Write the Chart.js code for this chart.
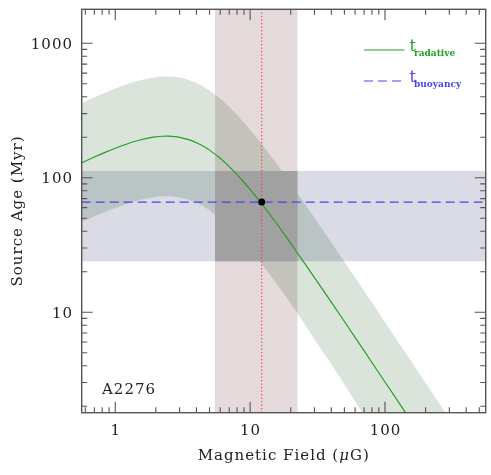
<!DOCTYPE html>
<html><head><meta charset="utf-8">
<script src="https://cdn.jsdelivr.net/npm/chart.js@4.4.0/dist/chart.umd.min.js"></script>
<style>html,body{margin:0;padding:0;background:#fff}</style>
</head><body><canvas id="c" width="491" height="475"></canvas>
<script>
// ---- data ----
const fieldB     = [0.56, 0.7, 0.85, 1, 1.25, 1.5, 1.75, 2, 2.25, 2.5, 2.75, 3, 3.5, 4, 4.5, 5, 6, 7, 8, 9, 10, 12, 14, 17, 20, 25, 30, 40, 60, 80, 100, 150, 200, 300, 400, 570];
const tRadiative = [128.9, 142.7, 155.2, 165.8, 179.9, 190.1, 197.2, 201.5, 203.6, 203.7, 202.4, 199.9, 192.1, 182.3, 171.5, 160.5, 139.5, 121.1, 105.6, 92.6, 81.8, 65.2, 53.3, 40.9, 32.5, 23.6, 18.1, 11.9, 6.5, 4.23, 3.03, 1.65, 1.07, 0.58, 0.38, 0.22];
const tRadUpper  = [358, 397, 431, 461, 500, 528, 548, 560, 566, 566, 563, 556, 534, 507, 477, 446, 388, 337, 294, 257, 227, 181, 148, 114, 90.4, 65.6, 50.4, 33.0, 18.1, 11.8, 8.42, 4.59, 2.98, 1.62, 1.05, 0.62];
const tRadLower  = [47.0, 51.5, 55.8, 59.5, 64.4, 68.0, 70.5, 72.0, 72.7, 72.7, 72.2, 71.4, 68.6, 65.1, 61.2, 57.3, 49.8, 43.2, 37.7, 33.0, 29.2, 23.3, 19.0, 14.6, 11.6, 8.3, 6.3, 4.1, 2.18, 1.40, 1.00, 0.545, 0.354, 0.19, 0.125, 0.074];
const fieldRange = [5.49, 22.5];     // muG
const ageRange   = [23.9, 112.4];    // Myr
const tBuoyancy  = 65.9;
const bestField  = 12.18;
const xLimits    = [0.564, 558];
const yLimits    = [1.79, 1789];
const xTickValues = [1, 10, 100];
const xTickLabels = ['1', '10', '100'];
const yTickValues = [10, 100, 1000];
const yTickLabels = ['10', '100', '1000'];
const sourceName = 'A2276';
const legendNames = ['radative', 'buoyancy'];

const C_GREEN = 'rgb(34,160,34)';
const C_BLUE = 'rgb(70,70,235)';
const C_RED = 'rgb(240,70,70)';

const pts = (xs, ys) => xs.map((v, i) => ({x: v, y: ys[i]}));
const hline = (yv, xr) => [{x: xr[0], y: yv}, {x: xr[1], y: yv}];

const band = {pointRadius: 0, borderWidth: 0, borderColor: 'transparent'};

const datasets = [
  Object.assign({data: pts(fieldB, tRadUpper), fill: '+1', backgroundColor: 'rgba(8,75,8,0.15)', order: 10, tension: 0.3}, band),
  Object.assign({data: pts(fieldB, tRadLower), fill: false, order: 10, tension: 0.3}, band),
  Object.assign({data: hline(yLimits[1], fieldRange), fill: '+1', backgroundColor: 'rgba(75,8,15,0.15)', order: 9}, band),
  Object.assign({data: hline(yLimits[0], fieldRange), fill: false, order: 9}, band),
  Object.assign({data: hline(ageRange[1], xLimits), fill: '+1', backgroundColor: 'rgba(15,15,82,0.15)', order: 8}, band),
  Object.assign({data: hline(ageRange[0], xLimits), fill: false, order: 8}, band),
  Object.assign({data: hline(ageRange[1], fieldRange), fill: '+1', backgroundColor: 'rgb(161,161,161)', order: 7}, band),
  Object.assign({data: hline(ageRange[0], fieldRange), fill: false, order: 7}, band),
  {data: pts(fieldB, tRadiative), borderColor: C_GREEN, borderWidth: 1.2, pointRadius: 0, fill: false, order: 3, tension: 0.3},
  {data: hline(tBuoyancy, xLimits), borderColor: C_BLUE, borderWidth: 1.2, borderDash: [9, 5], pointRadius: 0, fill: false, order: 2},
  {data: [{x: bestField, y: yLimits[0]}, {x: bestField, y: yLimits[1]}], borderColor: C_RED, borderWidth: 1.2, borderDash: [1.3, 2.2], pointRadius: 0, fill: false, order: 1},
  {data: [{x: bestField, y: tBuoyancy}], showLine: false, pointRadius: 3.5, pointBackgroundColor: '#000', pointBorderWidth: 0, borderColor: '#000', order: 0}
];

const FONT = '"DejaVu Serif", serif';
const decor = {
  id: 'decor',
  afterDraw(chart) {
    const {ctx, chartArea: a, scales: {x, y}} = chart;
    ctx.save();
    // frame
    ctx.strokeStyle = '#555';
    ctx.lineWidth = 1.4;
    ctx.strokeRect(a.left, a.top, a.right - a.left, a.bottom - a.top);
    // ticks
    ctx.lineWidth = 1.1;
    const tickVals = (lo, hi) => {
      const out = [];
      for (let k = Math.floor(Math.log10(lo)); k <= Math.ceil(Math.log10(hi)); k++) {
        for (let m = 1; m <= 9; m++) {
          const v = m * Math.pow(10, k);
          if (v >= lo && v <= hi) out.push({v, major: m === 1});
        }
      }
      return out;
    };
    ctx.beginPath();
    for (const t of tickVals(xLimits[0], xLimits[1])) {
      const px = x.getPixelForValue(t.v);
      const L = t.major ? 11 : 5.5;
      ctx.moveTo(px, a.bottom); ctx.lineTo(px, a.bottom - L);
      ctx.moveTo(px, a.top); ctx.lineTo(px, a.top + L);
    }
    for (const t of tickVals(yLimits[0], yLimits[1])) {
      const py = y.getPixelForValue(t.v);
      const L = t.major ? 11 : 5.5;
      ctx.moveTo(a.left, py); ctx.lineTo(a.left + L, py);
      ctx.moveTo(a.right, py); ctx.lineTo(a.right - L, py);
    }
    ctx.stroke();
    // tick labels
    ctx.letterSpacing = '1px';
    ctx.fillStyle = '#222';
    ctx.font = '15px ' + FONT;
    ctx.textAlign = 'center';
    ctx.textBaseline = 'alphabetic';
    xTickValues.forEach((v, i) => ctx.fillText(xTickLabels[i], x.getPixelForValue(v) + 0.5, 434.5));
    ctx.textAlign = 'right';
    yTickValues.forEach((v, i) => ctx.fillText(yTickLabels[i], 73, y.getPixelForValue(v) + 5.5));
    // x title
    const cx = (a.left + a.right) / 2;
    const p1 = 'Magnetic Field (', p2 = '\u03bc', p3 = 'G)';
    ctx.font = '15px ' + FONT;
    const w1 = ctx.measureText(p1).width, w3 = ctx.measureText(p3).width;
    ctx.font = 'italic 15px ' + FONT;
    const w2 = ctx.measureText(p2).width;
    let sx = cx - (w1 + w2 + w3) / 2;
    ctx.textAlign = 'left';
    ctx.font = '15px ' + FONT; ctx.fillText(p1, sx, 460);
    ctx.font = 'italic 15px ' + FONT; ctx.fillText(p2, sx + w1, 460);
    ctx.font = '15px ' + FONT; ctx.fillText(p3, sx + w1 + w2, 460);
    // y title
    ctx.save();
    ctx.translate(22, (a.top + a.bottom) / 2);
    ctx.rotate(-Math.PI / 2);
    ctx.textAlign = 'center';
    ctx.fillText('Source Age (Myr)', 0, 0);
    ctx.restore();
    // source name
    ctx.textAlign = 'left';
    ctx.fillText(sourceName, 102, 394);
    // legend
    ctx.letterSpacing = '0px';
    const legend = [
      {name: legendNames[0], color: C_GREEN, dash: [], yl: 50},
      {name: legendNames[1], color: C_BLUE, dash: [9, 5], yl: 81}
    ];
    for (const it of legend) {
      ctx.strokeStyle = it.color; ctx.lineWidth = 1.2; ctx.setLineDash(it.dash);
      ctx.beginPath(); ctx.moveTo(364, it.yl); ctx.lineTo(404.5, it.yl); ctx.stroke();
      ctx.setLineDash([]);
      ctx.fillStyle = it.color;
      ctx.font = '16px ' + FONT;
      ctx.fillText('t', 409.5, it.yl + 1);
      ctx.font = 'bold 9px ' + FONT;
      ctx.fillText(it.name, 414, it.yl + 6);
    }
    ctx.restore();
  }
};

new Chart(document.getElementById('c'), {
  type: 'line',
  data: {datasets},
  options: {
    responsive: false,
    animation: false,
    devicePixelRatio: 1,
    layout: {padding: {top: 9.3, right: 5.3, left: 0, bottom: 0}},
    plugins: {legend: {display: false}, tooltip: {enabled: false}},
    scales: {
      x: {type: 'logarithmic', min: xLimits[0], max: xLimits[1],
          grid: {display: false}, border: {display: false}, ticks: {display: false},
          afterFit(s) { s.height = 62.3; }},
      y: {type: 'logarithmic', min: yLimits[0], max: yLimits[1],
          grid: {display: false}, border: {display: false}, ticks: {display: false},
          afterFit(s) { s.width = 81.7; }}
    }
  },
  plugins: [decor]
});
</script>
</body></html>
